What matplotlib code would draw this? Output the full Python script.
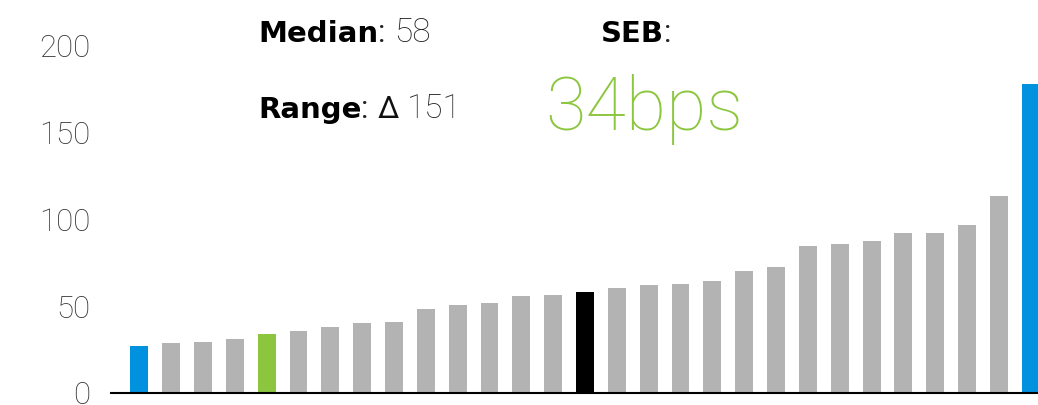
import matplotlib
matplotlib.use("Agg")
import matplotlib.pyplot as plt

# bar values, sorted ascending
values = [27, 29, 29.5, 31.4, 34, 35.8, 37.9, 40.6, 41.2, 48.3, 50.8, 51.7, 56, 56.3, 58,
          60.5, 62.1, 62.9, 64.8, 70.5, 72.8, 84.5, 85.6, 87.8, 92.2, 92.5, 97.1, 113.8, 178]
highlight = {0: "#0091DF", 4: "#8CC63F", 14: "#000000", 28: "#0091DF"}
yticks = [0, 50, 100, 150, 200]
median_label = "58"
range_label = "151"
seb_label = "34bps"

plt.rcParams['font.family'] = ['Roboto', 'DejaVu Sans']

W, H = 1038, 405
fig = plt.figure(figsize=(W / 100, H / 100), dpi=100)
ax = fig.add_axes([111 / W, 12 / H, 927 / W, 347 / H])

colors = [highlight.get(i, "#B3B3B3") for i in range(len(values))]
ax.bar(range(len(values)), values, width=0.565, color=colors, zorder=2)

ax.set_xlim(-0.89, 28.23)
ax.set_ylim(0, 200)
ax.set_yticks(yticks)
ax.set_yticklabels([str(t) for t in yticks], fontsize=22.5, fontweight='light', color='#333333')
ax.tick_params(axis='y', length=0, pad=15)
ax.tick_params(axis='x', length=0, labelbottom=False)
for s in ['top', 'right', 'left']:
    ax.spines[s].set_visible(False)
ax.spines['bottom'].set_linewidth(1.5)
ax.spines['bottom'].set_color('black')
ax.spines['bottom'].set_zorder(3)

renderer = fig.canvas.get_renderer()


def put(x, y, s, **kw):
    # x, y in pixels from the top-left corner; returns right edge in pixels
    t = fig.text(x / W, 1 - y / H, s, va='baseline', **kw)
    return t.get_window_extent(renderer).x1


def label(x, y, head, tail, delta=False):
    x = put(x, y, head, fontsize=21, fontweight='bold', family='DejaVu Sans')
    x = put(x, y, ":", fontsize=22, fontweight='normal', color='#222222')
    x += 9
    if delta:
        x = put(x, y, "Δ", fontsize=22, fontweight='normal', color='#111111') + 8
    put(x, y, tail, fontsize=24, fontweight='light', color='#222222')


label(258, 42, "Median", median_label)
label(258, 118, "Range", range_label, delta=True)
label(601, 42, "SEB", "")
put(545, 130, seb_label, fontsize=53, fontweight='light', color='#8CC63F')

fig.savefig("out.png", dpi=100)
